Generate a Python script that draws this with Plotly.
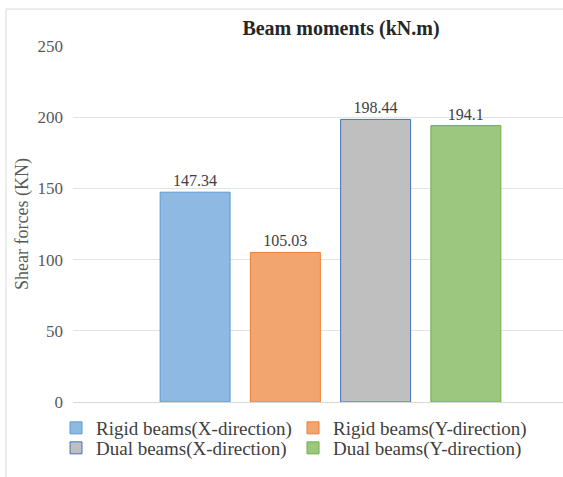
import plotly.graph_objects as go

# series shown as grouped bars over a single category
series_names = [
    'Rigid beams(X-direction)',
    'Rigid beams(Y-direction)',
    'Dual beams(X-direction)',
    'Dual beams(Y-direction)',
]
series_values = [147.34, 105.03, 198.44, 194.1]
y_ticks = [0, 50, 100, 150, 200, 250]

fill_colors = ['#8db9e2', '#f3a56f', '#bfbfbf', '#9cc77f']
edge_colors = ['#5b9bd5', '#ed7d31', '#4472c4', '#70ad47']
# first two series on the top legend row, last two on the second row
legend_rows = ['legend', 'legend', 'legend2', 'legend2']

FONT = 'Liberation Serif, Times New Roman, DejaVu Serif, serif'

# plot area in pixels (width 563, height 477)
left, top, bottom = 73, 46, 402
plot_w = 563 - left
plot_h = bottom - top


def px_to_paper_x(px):
    return (px - left) / plot_w


def px_to_paper_y(py):
    return (bottom - py) / plot_h


fig = go.Figure()

for name, val, fc, ec, lg in zip(series_names, series_values, fill_colors,
                                 edge_colors, legend_rows):
    fig.add_trace(
        go.Bar(
            x=[0],
            y=[val],
            name=name,
            legend=lg,
            marker=dict(color=fc, line=dict(color=ec, width=1)),
            text=[val],
            texttemplate='%{y}',
            textposition='outside',
            textfont=dict(family=FONT, size=16, color='#404040'),
            cliponaxis=False,
        )
    )

# y axis title, placed by hand like the original
fig.add_annotation(
    text='Shear forces (KN)',
    xref='paper', yref='paper',
    x=px_to_paper_x(22), y=0.5,
    xanchor='center', yanchor='middle',
    textangle=-90, showarrow=False,
    font=dict(family=FONT, size=18, color='#595959'),
)

# light chart-area border (runs off the cropped right / bottom edges)
fig.add_shape(
    type='rect', xref='paper', yref='paper',
    x0=px_to_paper_x(6), x1=1.3,
    y0=-1.0, y1=px_to_paper_y(9),
    line=dict(color='#d9d9d9', width=1),
    layer='below',
)

legend_style = dict(
    orientation='h',
    x=px_to_paper_x(56), xanchor='left',
    yanchor='middle',
    entrywidth=192,
    entrywidthmode='pixels',
    font=dict(family=FONT, size=19, color='#404040'),
    bgcolor='rgba(0,0,0,0)',
    traceorder='normal',
)

fig.update_layout(
    width=563,
    height=477,
    margin=dict(l=left, r=0, t=top, b=477 - bottom),
    paper_bgcolor='white',
    plot_bgcolor='white',
    barmode='group',
    bargap=0.299,
    bargroupgap=0.225,
    title=dict(
        text='<b>Beam moments (kN.m)</b>',
        x=341 / 563, xanchor='center',
        y=1 - 28 / 477, yanchor='middle',
        font=dict(family=FONT, size=20, color='#262626'),
    ),
    showlegend=True,
    legend=dict(legend_style, y=px_to_paper_y(428)),
    legend2=dict(legend_style, y=px_to_paper_y(448)),
)

fig.update_xaxes(
    type='linear',
    range=[-0.5, 0.4515],
    showticklabels=False,
    showgrid=False,
    zeroline=False,
    showline=True,
    linecolor='#d9d9d9',
    linewidth=1,
    ticks='',
)

fig.update_yaxes(
    range=[0, 250],
    tickvals=y_ticks,
    showgrid=True,
    gridcolor='#e3e3e3',
    gridwidth=1,
    zeroline=False,
    showline=False,
    ticks='',
    ticklabelstandoff=9,
    tickfont=dict(family=FONT, size=17, color='#595959'),
)

# drop the page's default body margin so the figure sits at the window corner
fig.write_html(
    'out.html',
    config={'displayModeBar': False},
    post_script="document.body.style.margin = '0';",
)
